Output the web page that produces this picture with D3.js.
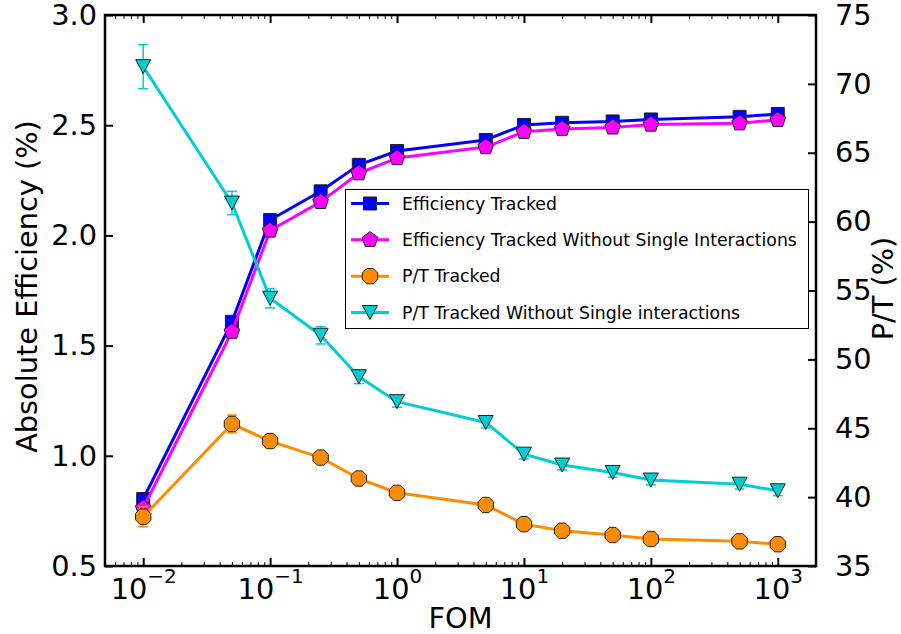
<!DOCTYPE html>
<html>
<head>
<meta charset="utf-8">
<script src="https://cdn.jsdelivr.net/npm/d3@7"></script>
<style>
  body { margin: 0; background: #fff; }
  svg { display: block; font-family: "DejaVu Sans", sans-serif; }
</style>
</head>
<body>
<svg id="chart"></svg>
<script>
// data
const fom = [0.01, 0.05, 0.1, 0.25, 0.5, 1, 5, 10, 20, 50, 100, 500, 1000];
const effTracked = [0.804, 1.608, 2.070, 2.200, 2.320, 2.383, 2.433, 2.501, 2.511, 2.517, 2.526, 2.538, 2.551];
const effTrackedErr = [0.02, 0.02, 0.02, 0.02, 0.02, 0.02, 0.02, 0.02, 0.02, 0.02, 0.02, 0.02, 0.02];
const effNoSingle = [0.763, 1.563, 2.022, 2.152, 2.282, 2.351, 2.401, 2.470, 2.483, 2.490, 2.503, 2.509, 2.524];
const effNoSingleErr = [0.02, 0.02, 0.02, 0.02, 0.02, 0.02, 0.02, 0.02, 0.02, 0.02, 0.02, 0.02, 0.02];
const ptTracked = [38.58, 45.31, 44.07, 42.87, 41.35, 40.31, 39.43, 38.04, 37.56, 37.25, 36.96, 36.79, 36.58];
const ptTrackedErr = [0.73, 0.65, 0.5, 0.4, 0.3, 0.25, 0.25, 0.2, 0.2, 0.2, 0.2, 0.2, 0.2];
const ptNoSingle = [71.25, 61.35, 54.44, 51.75, 48.74, 46.93, 45.42, 43.12, 42.33, 41.79, 41.24, 40.94, 40.46];
const ptNoSingleErr = [1.6, 0.85, 0.7, 0.63, 0.5, 0.4, 0.4, 0.35, 0.35, 0.35, 0.35, 0.35, 0.35];

const xMajor = [0.01, 0.1, 1, 10, 100, 1000];
const leftTicks = [0.5, 1.0, 1.5, 2.0, 2.5, 3.0];
const rightTicks = [35, 40, 45, 50, 55, 60, 65, 70, 75];

const legendLabels = [
    'Efficiency Tracked',
    'Efficiency Tracked Without Single Interactions',
    'P/T Tracked',
    'P/T Tracked Without Single interactions'
];

const W = 901, H = 634;
const plot = { left: 105, right: 816, top: 15, bottom: 566 };

const svg = d3.select('#chart').attr('width', W).attr('height', H);
svg.append('rect').attr('width', W).attr('height', H).attr('fill', '#fff');

// scales
const x = d3.scaleLog().domain([0.005, 2000]).range([plot.left, plot.right]);
const yL = d3.scaleLinear().domain([0.5, 3.0]).range([plot.bottom, plot.top]);
const yR = d3.scaleLinear().domain([35, 75]).range([plot.bottom, plot.top]);

// minor x ticks: 2..9 times each decade inside the domain
const xMinor = [];
for (let e = -3; e <= 3; e++) {
    for (let m = 2; m <= 9; m++) {
        const v = m * Math.pow(10, e);
        if (v >= 0.005 && v <= 2000) xMinor.push(v);
    }
}

function supLabel(sel) {
    sel.each(function(d) {
        const e = Math.round(Math.log10(d));
        const t = d3.select(this);
        t.text(null);
        t.append('tspan').text('10');
        t.append('tspan').attr('dy', -16).style('font-size', '20px')
            .text(e < 0 ? '\u2212' + (-e) : String(e));
    });
}

// axes, ticks pointing inward
const gxMinor = svg.append('g').attr('transform', `translate(0,${plot.bottom})`)
    .call(d3.axisBottom(x).tickValues(xMinor).tickSize(-4).tickFormat(''));
const gxTopMinor = svg.append('g').attr('transform', `translate(0,${plot.top})`)
    .call(d3.axisTop(x).tickValues(xMinor).tickSize(-4).tickFormat(''));
const gx = svg.append('g').attr('transform', `translate(0,${plot.bottom})`)
    .call(d3.axisBottom(x).tickValues(xMajor).tickSize(-8).tickPadding(13));
const gxTop = svg.append('g').attr('transform', `translate(0,${plot.top})`)
    .call(d3.axisTop(x).tickValues(xMajor).tickSize(-8).tickFormat(''));
const gyL = svg.append('g').attr('transform', `translate(${plot.left},0)`)
    .call(d3.axisLeft(yL).tickValues(leftTicks).tickSize(-8).tickPadding(8).tickFormat(d3.format('.1f')));
const gyR = svg.append('g').attr('transform', `translate(${plot.right},0)`)
    .call(d3.axisRight(yR).tickValues(rightTicks).tickSize(-8).tickPadding(19).tickFormat(d3.format('d')));

gx.selectAll('.tick text').call(supLabel);

[gxMinor, gxTopMinor, gx, gxTop, gyL, gyR].forEach(g => {
    g.select('.domain').remove();
    g.selectAll('text').attr('fill', '#000').style('font-size', '28.8px')
        .style('font-family', '"DejaVu Sans", sans-serif');
});
[gxMinor, gxTopMinor].forEach(g => g.selectAll('line').attr('stroke', '#000').attr('stroke-width', 1));
[gx, gxTop, gyL, gyR].forEach(g => g.selectAll('line').attr('stroke', '#000').attr('stroke-width', 2));

// spines
svg.append('rect')
    .attr('x', plot.left).attr('y', plot.top)
    .attr('width', plot.right - plot.left).attr('height', plot.bottom - plot.top)
    .attr('fill', 'none').attr('stroke', '#000').attr('stroke-width', 2.5);

// axis labels
svg.append('text')
    .attr('x', (plot.left + plot.right) / 2).attr('y', 628)
    .attr('text-anchor', 'middle').style('font-size', '28.8px')
    .text('FOM');

svg.append('text')
    .attr('transform', `translate(37,${(plot.top + plot.bottom) / 2 - 4}) rotate(-90)`)
    .attr('text-anchor', 'middle').style('font-size', '28.8px')
    .text('Absolute Efficiency (%)');

svg.append('text')
    .attr('transform', `translate(893,${(plot.top + plot.bottom) / 2 - 2}) rotate(-90)`)
    .attr('text-anchor', 'middle').style('font-size', '28.8px')
    .text('P/T (%)');

// marker shapes
function polygon(n, r, rot) {
    const pts = d3.range(n).map(i => {
        const a = rot + i * 2 * Math.PI / n;
        return [r * Math.sin(a), -r * Math.cos(a)];
    });
    return 'M' + pts.map(p => p.join(',')).join('L') + 'Z';
}
const markers = {
    square: polygon(4, 9.2, Math.PI / 4),
    pentagon: polygon(5, 8.2, 0),
    octagon: polygon(8, 8.3, Math.PI / 8),
    triDown: 'M0,7L-7.5,-7L7.5,-7Z'
};

const series = [
    { vals: effTracked, err: effTrackedErr, y: yL, color: '#0000ff', marker: markers.square },
    { vals: effNoSingle, err: effNoSingleErr, y: yL, color: '#ff00ff', marker: markers.pentagon },
    { vals: ptTracked, err: ptTrackedErr, y: yR, color: '#ff8c00', marker: markers.octagon },
    { vals: ptNoSingle, err: ptNoSingleErr, y: yR, color: '#00ced1', marker: markers.triDown }
];

const plotArea = svg.append('g');

series.forEach(s => {
    const pts = fom.map((f, i) => ({ f: f, v: s.vals[i], e: s.err[i] }));
    const g = plotArea.append('g');

    // error bars
    const eb = g.selectAll('.eb').data(pts).enter().append('g');
    eb.append('line')
        .attr('x1', d => x(d.f)).attr('x2', d => x(d.f))
        .attr('y1', d => s.y(d.v - d.e)).attr('y2', d => s.y(d.v + d.e))
        .attr('stroke', s.color).attr('stroke-width', 1.5);
    [-1, 1].forEach(sign => {
        eb.append('line')
            .attr('x1', d => x(d.f) - 5).attr('x2', d => x(d.f) + 5)
            .attr('y1', d => s.y(d.v + sign * d.e)).attr('y2', d => s.y(d.v + sign * d.e))
            .attr('stroke', s.color).attr('stroke-width', 1.5);
    });

    // line
    g.append('path')
        .datum(pts)
        .attr('fill', 'none').attr('stroke', s.color).attr('stroke-width', 3)
        .attr('stroke-linejoin', 'round')
        .attr('d', d3.line().x(d => x(d.f)).y(d => s.y(d.v)));

    // markers
    g.selectAll('.mk').data(pts).enter().append('path')
        .attr('transform', d => `translate(${x(d.f)},${s.y(d.v)})`)
        .attr('d', s.marker)
        .attr('fill', s.color).attr('stroke', '#222').attr('stroke-width', 1);
});

// legend
const legend = svg.append('g');
legend.append('rect')
    .attr('x', 345.5).attr('y', 189.5).attr('width', 463).attr('height', 139)
    .attr('fill', '#fff').attr('stroke', '#000').attr('stroke-width', 1);

const rowY = d3.scalePoint().domain(d3.range(legendLabels.length)).range([203.5, 312.5]);
series.forEach((s, i) => {
    const yy = rowY(i);
    legend.append('line')
        .attr('x1', 351).attr('x2', 389).attr('y1', yy).attr('y2', yy)
        .attr('stroke', s.color).attr('stroke-width', 3);
    legend.append('path')
        .attr('transform', `translate(370,${yy})`)
        .attr('d', s.marker)
        .attr('fill', s.color).attr('stroke', '#222').attr('stroke-width', 1);
    legend.append('text')
        .attr('x', 402).attr('y', yy).attr('dy', '0.36em')
        .style('font-size', '17.3px')
        .text(legendLabels[i]);
});
</script>
</body>
</html>
